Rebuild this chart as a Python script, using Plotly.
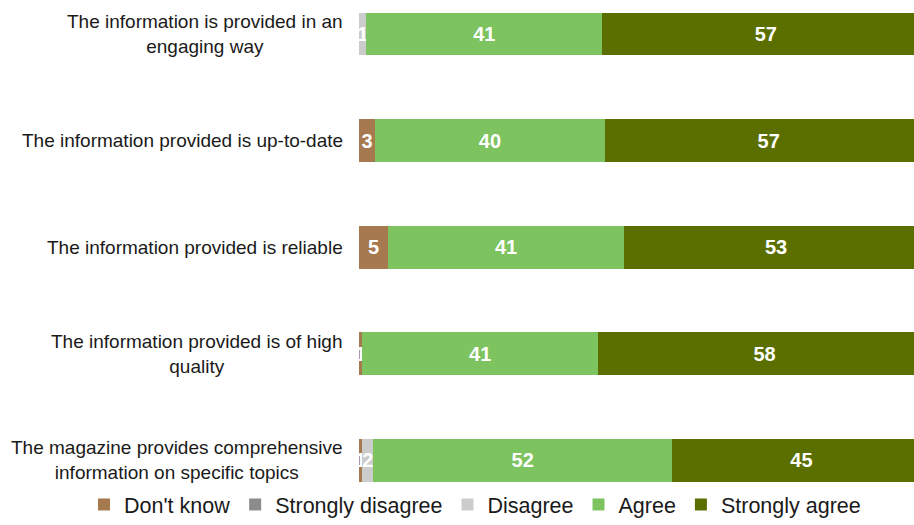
import plotly.graph_objects as go

categories = [
    "The information is provided in an<br>engaging way",
    "The information provided is up-to-date",
    "The information provided is reliable",
    "The information provided is of high<br>quality",
    "The magazine provides comprehensive<br>information on specific topics",
]
dont_know = [0, 2.8, 5.1, 0.6, 0.6]
strongly_disagree = [0, 0, 0, 0, 0]
disagree = [1.3, 0, 0, 0, 1.9]
agree = [41, 40, 41, 41, 52]
strongly_agree = [57, 57, 53, 58, 45]

series = [
    ("Don't know", dont_know, "#a67a4e"),
    ("Strongly disagree", strongly_disagree, "#8c8c8c"),
    ("Disagree", disagree, "#cccccc"),
    ("Agree", agree, "#7dc35f"),
    ("Strongly agree", strongly_agree, "#5b6f00"),
]

fig = go.Figure()
for name, vals, color in series:
    fig.add_trace(go.Bar(
        y=categories, x=vals, name=name, orientation="h",
        marker=dict(color=color, line=dict(width=0)),
        text=[f"{v:.0f}" if v > 0 else "" for v in vals],
        textposition="inside", insidetextanchor="middle",
        constraintext="none", cliponaxis=True,
        textfont=dict(family="Liberation Sans, Arial", size=20, color="white", weight="bold"),
        width=0.40,
    ))

for c in categories:
    fig.add_annotation(
        x=0, xref="paper", y=c, yref="y", xanchor="right", yanchor="middle",
        xshift=-14, text=c, showarrow=False, align="center",
        font=dict(family="Liberation Sans, Arial", size=19, color="#1a1a1a"),
    )

plot_left, plot_w = 359, 555
px_per_row, first_row_px, plot_h = 106.6, 34, 484
y_top = -first_row_px / px_per_row
y_bottom = y_top + plot_h / px_per_row

fig.update_layout(
    width=914, height=525,
    margin=dict(l=plot_left, r=0, t=0, b=30),
    barmode="stack",
    plot_bgcolor="white", paper_bgcolor="white",
    xaxis=dict(range=[0, 96.6], visible=False, fixedrange=True),
    yaxis=dict(range=[y_bottom, y_top], showticklabels=False, showgrid=False,
               zeroline=False, showline=False, ticks="", fixedrange=True),
    showlegend=True,
    legend=dict(orientation="h", xref="paper", yref="paper",
                x=(84 - plot_left) / plot_w, y=0,
                xanchor="left", yanchor="top",
                font=dict(family="Liberation Sans, Arial", size=21.5, color="#1a1a1a"),
                traceorder="normal", itemwidth=30, borderwidth=0),
    font=dict(family="Liberation Sans, Arial"),
)

fig.write_html("out.html", config={"displayModeBar": False},
               post_script="document.body.style.margin='0';document.body.style.overflow='hidden';")
